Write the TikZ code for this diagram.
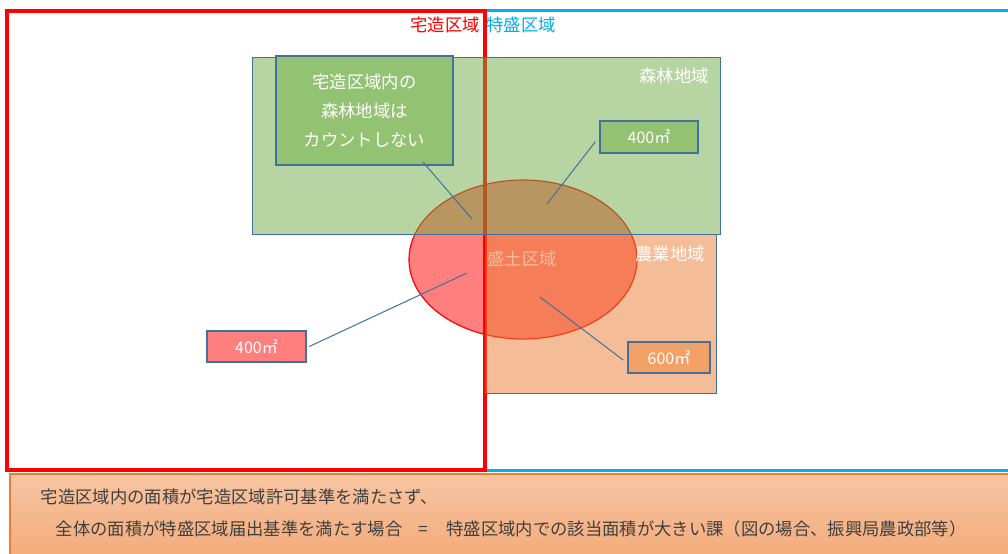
\documentclass[tikz,border=0pt]{standalone}
\usepackage{fontspec}
\setmainfont{Noto Sans CJK JP}
\usetikzlibrary{positioning}
\definecolor{takuzo}{HTML}{FF0000}
\definecolor{tokumori}{HTML}{00B0F0}
\definecolor{shinrin}{HTML}{70AD47}
\definecolor{nogyo}{HTML}{ED7D31}
\definecolor{waku}{HTML}{41719C}
\definecolor{hako}{HTML}{93C273}
\definecolor{pinku}{HTML}{FF7F7F}
\definecolor{daidai}{HTML}{F3A066}
\definecolor{sumi}{HTML}{404040}
\begin{document}
\begin{tikzpicture}[x=0.75pt,y=-0.75pt,
	zone/.style={draw=waku,line width=0.75pt,fill opacity=0.5},
	tag/.style={draw=waku,line width=0.9pt,text=white,inner sep=0pt,font=\fontsize{12}{14}\selectfont},
	leader/.style={draw=waku,line width=0.75pt},
	zonelabel/.style={text=white,font=\fontsize{13}{15}\selectfont}]
		\useasboundingbox (0,0) rectangle (1008,554);
		\fill[white] (0,0) rectangle (1008,554);
		% 盛土区域 (duoi cac lop mau)
		\draw[draw=takuzo,line width=0.9pt,fill=takuzo,fill opacity=0.5] (523,259.5) ellipse [x radius=85.5pt,y radius=59.6pt];
		\node[zonelabel] (morido) at (522,259) {盛土区域};
		% khung 宅造区域 va 特盛区域
		\draw[takuzo,line width=3pt] (7,11) rectangle (484.5,469.5);
		\draw[tokumori,line width=2.25pt] (486.5,10.7) -- (1012,10.7) (486.5,470) -- (1012,470);
		% 森林地域 va 農業地域
		\draw[zone,fill=shinrin] (252,57) rectangle (720,234);
		\draw[zone,fill=nogyo] (485.5,234) rectangle (716,393);
		\node[zonelabel] (shinrinL) at (674,76) {森林地域};
		\node[zonelabel] (nogyoL) at (670,254) {農業地域};
		% cac o ghi chu
		\node[tag,fill=hako,minimum width=132.75pt,minimum height=81.75pt,align=center,font=\fontsize{13}{21.75}\selectfont] (note) at (364.5,110.5) {宅造区域内の\\森林地域は\\カウントしない};
		\node[tag,fill=hako,minimum width=73.5pt,minimum height=24pt] (g400) at (649,137) {400㎡};
		\node[tag,fill=pinku,minimum width=74.25pt,minimum height=23.25pt] (p400) at (256.5,346.5) {400㎡};
		\node[tag,fill=daidai,minimum width=61.5pt,minimum height=23.25pt] (o600) at (669,357.5) {600㎡};
		\coordinate (noteA) at (423,162);
		\coordinate (noteB) at (472,219);
		\coordinate (g400B) at (547,204);
		\coordinate (p400B) at (467,273);
		\coordinate (o600B) at (540,297);
		\draw[leader] (noteA) -- (noteB);
		\draw[leader] ([xshift=-3pt,yshift=-3.5pt]g400.west) -- (g400B);
		\draw[leader] ([xshift=2pt]p400.east) -- (p400B);
		\draw[leader] ([xshift=-3pt,yshift=-2pt]o600.west) -- (o600B);
		% tieu de
		\node[text=takuzo,font=\fontsize{13}{15}\selectfont] (takuzoL) at (445,25) {宅造区域};
		\node[text=tokumori,font=\fontsize{13}{15}\selectfont,right=-2pt of takuzoL] (tokumoriL) {特盛区域};
		% dong ket luan
		\shade[top color=nogyo!45!white,bottom color=nogyo!65!white,draw=nogyo,line width=0.9pt] (10,474) rectangle (1014,560);
		\node[anchor=west,text=sumi,font=\fontsize{13}{15}\selectfont] (jouken) at (36,497) {宅造区域内の面積が宅造区域許可基準を満たさず、};
		\node[anchor=west,text=sumi,font=\fontsize{13}{15}\selectfont] (ketsuron) at (51,529) {全体の面積が特盛区域届出基準を満たす場合\hspace{12pt}=\hspace{14pt}特盛区域内での該当面積が大きい課（図の場合、振興局農政部等）};
\end{tikzpicture}
\end{document}
